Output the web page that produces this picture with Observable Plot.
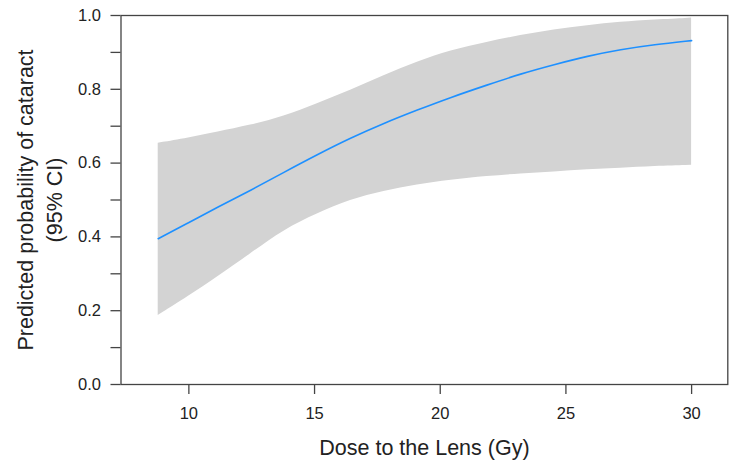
<!DOCTYPE html>
<html>
<head>
<meta charset="utf-8">
<script src="https://cdn.jsdelivr.net/npm/d3@7"></script>
<script src="https://cdn.jsdelivr.net/npm/@observablehq/plot@0.6"></script>
<style>
  html, body { margin: 0; padding: 0; background: #fff; }
</style>
</head>
<body>
<div id="chart"></div>
<script>
const dose  = [8.78, 10, 11.13, 12.46, 13.78, 15.11, 16.43, 17.76, 19.09, 20.41, 21.88, 23.2, 24.53, 25.86, 27.18, 28.51, 30];
const fit   = [0.395, 0.439, 0.480, 0.526, 0.575, 0.623, 0.668, 0.708, 0.744, 0.778, 0.812, 0.842, 0.867, 0.890, 0.908, 0.921, 0.932];
const upper = [0.654, 0.668, 0.684, 0.702, 0.726, 0.761, 0.797, 0.837, 0.874, 0.905, 0.928, 0.946, 0.961, 0.973, 0.982, 0.988, 0.993];
const lower = [0.187, 0.239, 0.291, 0.354, 0.419, 0.463, 0.501, 0.524, 0.541, 0.554, 0.564, 0.571, 0.576, 0.582, 0.586, 0.591, 0.594];

const xTicks = [10, 15, 20, 25, 30];
const yTicks = [0, 0.1, 0.2, 0.3, 0.4, 0.5, 0.6, 0.7, 0.8, 0.9, 1.0];
const yTickLabels = ["0.0", "", "0.2", "", "0.4", "", "0.6", "", "0.8", "", "1.0"];
const xTitle = "Dose to the Lens (Gy)";
const yTitle = "Predicted probability of cataract\n(95% CI)";

const rows = dose.map((d, i) => ({dose: d, fit: fit[i], upper: upper[i], lower: lower[i]}));

const font = "'Liberation Sans', Arial, Helvetica, sans-serif";
const axisColor = "#444";

const chart = Plot.plot({
  width: 729,
  height: 462,
  marginLeft: 120.5,
  marginRight: 1.7,
  marginTop: 15,
  marginBottom: 78,
  x: {domain: [7.3, 31.44]},
  y: {domain: [0, 1]},
  style: {fontFamily: font, background: "#fff", color: "#222"},
  marks: [
    Plot.areaY(rows, {x: "dose", y1: "lower", y2: "upper", fill: "#d3d3d3", curve: "basis"}),
    Plot.lineY(rows, {x: "dose", y: "fit", stroke: "#1e90ff", strokeWidth: 1.6, curve: "basis"}),
    Plot.frame({stroke: axisColor, strokeWidth: 1.3}),
    Plot.axisX({ticks: xTicks, tickSize: 10, tickPadding: 13, fontSize: 16.5, label: null,
                stroke: axisColor, strokeWidth: 1.3, tickFormat: d => String(d)}),
    Plot.axisY({ticks: yTicks, tickSize: 10, tickPadding: 10, fontSize: 16.5, label: null,
                stroke: axisColor, strokeWidth: 1.3,
                tickFormat: d => yTickLabels[yTicks.indexOf(d)]}),
    Plot.text([xTitle], {text: d => d, frameAnchor: "bottom", dy: 70, lineAnchor: "bottom",
                         fontSize: 21.5, fill: "#222"}),
    Plot.text([yTitle], {text: d => d, frameAnchor: "left", dx: -82.5, rotate: -90,
                         lineAnchor: "middle", textAnchor: "middle", lineHeight: 1.35,
                         fontSize: 21.5, fill: "#222"})
  ]
});

document.getElementById("chart").appendChild(chart);
</script>
</body>
</html>
